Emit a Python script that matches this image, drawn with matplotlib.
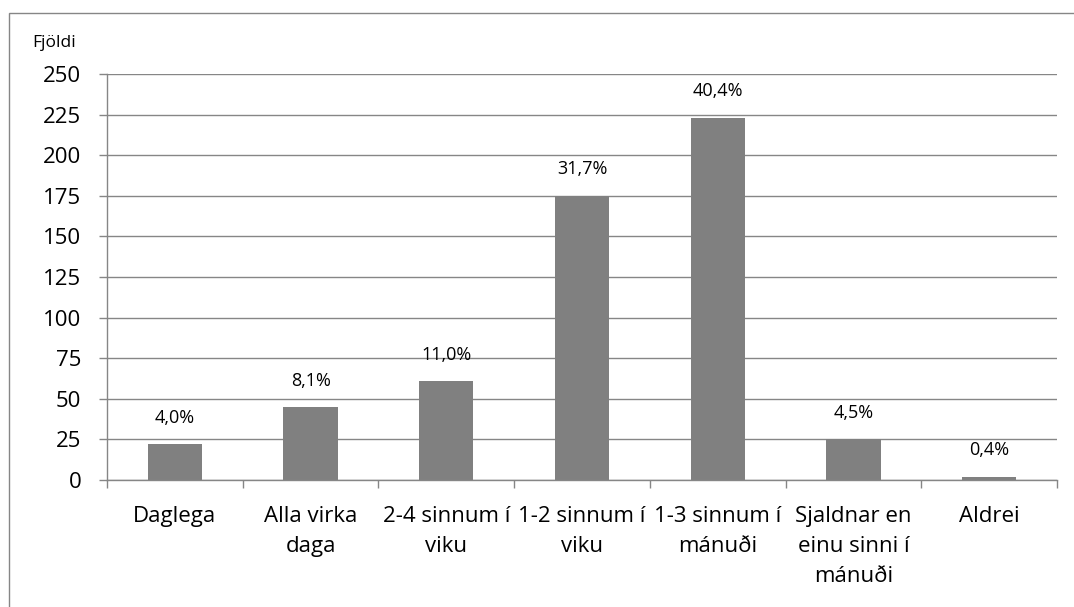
import matplotlib.pyplot as plt
from matplotlib.patches import Rectangle

# values
categories = [
    "Daglega",
    "Alla virka\ndaga",
    "2-4 sinnum í\nviku",
    "1-2 sinnum í\nviku",
    "1-3 sinnum í\nmánuði",
    "Sjaldnar en\neinu sinni í\nmánuði",
    "Aldrei",
]
counts = [22, 45, 61, 175, 223, 25, 2]
pct_labels = ["4,0%", "8,1%", "11,0%", "31,7%", "40,4%", "4,5%", "0,4%"]
y_ticks = [0, 25, 50, 75, 100, 125, 150, 175, 200, 225, 250]

W, H = 1074, 607
plt.rcParams["font.family"] = ["Open Sans", "DejaVu Sans"]
grid_col = "#868686"
bar_col = "#808080"

fig = plt.figure(figsize=(W / 100, H / 100), dpi=100)
ax = fig.add_axes([107 / W, 1 - 480 / H, (1057 - 107) / W, (480 - 74) / H])

x = list(range(len(categories)))
ax.bar(x, counts, width=0.4, color=bar_col, zorder=3)

for xi, c, lab in zip(x, counts, pct_labels):
    ax.annotate(lab, (xi, c), xytext=(0, 19), textcoords="offset points",
                ha="center", va="center", fontsize=13, color="black")

ax.set_xlim(-0.5, len(categories) - 0.5)
ax.set_ylim(0, 250)
ax.set_yticks(y_ticks)
# major ticks sit between categories, labels go on minor ticks at bar centres
ax.set_xticks([i - 0.5 for i in range(len(categories) + 1)])
ax.set_xticklabels([])
ax.set_xticks(x, minor=True)
ax.set_xticklabels(categories, minor=True, fontsize=16, linespacing=1.55, va="top")
ax.tick_params(axis="x", which="minor", length=0, pad=19)
ax.tick_params(axis="x", which="major", length=6, width=1, color=grid_col, direction="out")
ax.tick_params(axis="y", length=6, width=1, color=grid_col, labelsize=16, pad=12.5)

ax.yaxis.grid(True, color=grid_col, linewidth=1)
ax.set_axisbelow(True)
for side in ["top", "right"]:
    ax.spines[side].set_visible(False)
for side in ["left", "bottom"]:
    ax.spines[side].set_color(grid_col)
    ax.spines[side].set_linewidth(1)
ax.spines["bottom"].set_zorder(4)

fig.text(32 / W, 1 - 43 / H, "Fjöldi", fontsize=12.5, va="center", ha="left")

# outer chart border
fig.patches.append(Rectangle((9 / W, -0.05), 1.1, 1 - 13 / H + 0.05,
                             transform=fig.transFigure, fill=False,
                             edgecolor=grid_col, linewidth=1))

fig.savefig("out.png", dpi=100)
